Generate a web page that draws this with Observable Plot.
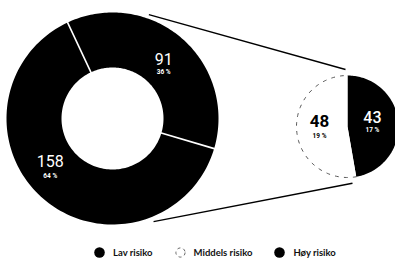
<!DOCTYPE html>
<html><head><meta charset="utf-8">
<script src="https://cdn.jsdelivr.net/npm/d3@7"></script>
<script src="https://cdn.jsdelivr.net/npm/@observablehq/plot@0.6"></script>
<style>
html,body{margin:0;padding:0;background:#fff;}
#chart svg{display:block;}
#legend{display:flex;align-items:center;height:28px;margin-top:6px;padding-left:94px;font-family:Lato,"Open Sans",sans-serif;font-size:9.5px;font-weight:700;color:#111;}
#legend .item{display:flex;align-items:center;margin-right:22px;}
#legend svg{margin-right:8px;display:block;}
</style></head><body>
<div id="chart"></div>
<div id="legend"></div>
<script>
// ---- data ----
const donutCategories = ["Lav risiko", "Middels og høy risiko"];
const donutValues = [158, 91];
const donutPercents = ["64 %", "36 %"];
const pieCategories = ["Høy risiko", "Middels risiko"];
const pieValues = [43, 48];
const piePercents = ["17 %", "19 %"];
const legendCategories = ["Lav risiko", "Middels risiko", "Høy risiko"];
const legendStyles = ["solid", "dashed", "solid"];

// ---- layout ----
const W = 395, H = 232;
const rad = d => d * Math.PI / 180;
const donut = {cx: 112, cy: 118, r0: 51, r1: 106, start: 106.5};
const pie = {cx: 347, cy: 126, r: 51, start: 0};
const connectors = [
  {a1: 19.3, r1: 110, a2: -2, r2: 57},
  {a1: 158.3, r1: 111, a2: 175, r2: 57}
];

const pt = (cx, cy, r, a) => [cx + r * Math.sin(a), cy - r * Math.cos(a)];
function ring(key, cx, cy, r0, r1, a0, a1, n = 120) {
  const out = [];
  for (let i = 0; i <= n; i++) { const [x, y] = pt(cx, cy, r1, a0 + (a1 - a0) * i / n); out.push({key, x, y}); }
  if (r0 > 0) for (let i = n; i >= 0; i--) { const [x, y] = pt(cx, cy, r0, a0 + (a1 - a0) * i / n); out.push({key, x, y}); }
  else out.push({key, x: cx, y: cy});
  return out;
}
function arcLine(key, cx, cy, r, a0, a1, n = 120) {
  const out = [];
  for (let i = 0; i <= n; i++) { const [x, y] = pt(cx, cy, r, a0 + (a1 - a0) * i / n); out.push({key, x, y}); }
  return out;
}

// donut arcs
const donutArcs = d3.pie().sort(null).startAngle(rad(donut.start)).endAngle(rad(donut.start + 360))
  (donutValues).map((a, i) => ({...a, cat: donutCategories[i], pct: donutPercents[i]}));
const donutPoly = donutArcs.flatMap(a => ring(a.cat, donut.cx, donut.cy, donut.r0, donut.r1, a.startAngle, a.endAngle));
const donutSeps = donutArcs.map(a => {
  const [x1, y1] = pt(donut.cx, donut.cy, donut.r0 - 1, a.startAngle);
  const [x2, y2] = pt(donut.cx, donut.cy, donut.r1 + 1, a.startAngle);
  return {x1, y1, x2, y2};
});
const donutLabels = donutArcs.map(a => {
  const m = (a.startAngle + a.endAngle) / 2;
  const [x, y] = pt(donut.cx, donut.cy, (donut.r0 + donut.r1) / 2, m);
  return {x, y, value: String(a.value), pct: a.pct, cat: a.cat};
});

// pie arcs
const pieArcs = d3.pie().sort(null).startAngle(rad(pie.start)).endAngle(rad(pie.start + 360))
  (pieValues).map((a, i) => ({...a, cat: pieCategories[i], pct: piePercents[i]}));
const piePoly = pieArcs.flatMap(a => ring(a.cat, pie.cx, pie.cy, 0, pie.r, a.startAngle, a.endAngle));
const pieDashed = pieArcs.filter(a => a.cat === "Middels risiko")
  .flatMap(a => arcLine(a.cat, pie.cx, pie.cy, pie.r, a.startAngle, a.endAngle));
const pieLabels = pieArcs.map(a => {
  const m = (a.startAngle + a.endAngle) / 2;
  const [x, y] = pt(pie.cx, pie.cy, pie.r * 0.55, m);
  return {x, y, value: String(a.value), pct: a.pct, cat: a.cat};
});

const links = connectors.map(c => {
  const [x1, y1] = pt(donut.cx, donut.cy, c.r1, rad(c.a1));
  const [x2, y2] = pt(pie.cx, pie.cy, c.r2, rad(c.a2));
  return {x1, y1, x2, y2};
});

const fillOf = cat => cat === "Middels risiko" ? "#fff" : "#000";
const big = donutLabels.filter(d => d.cat === "Lav risiko");
const small = donutLabels.filter(d => d.cat !== "Lav risiko");
const pieLight = pieLabels.filter(d => d.cat === "Middels risiko");
const pieDark = pieLabels.filter(d => d.cat !== "Middels risiko");
const numFont = "Roboto, 'Open Sans', sans-serif";

const chart = Plot.plot({
  width: W, height: H, margin: 0,
  x: {domain: [0, W], range: [0, W], axis: null},
  y: {domain: [0, H], range: [0, H], axis: null},
  style: {background: "#fff"},
  marks: [
    Plot.link(links, {x1: "x1", y1: "y1", x2: "x2", y2: "y2", stroke: "#000", strokeWidth: 1.4}),
    Plot.line(donutPoly, {x: "x", y: "y", z: "key", fill: "#000", stroke: "none", curve: "linear-closed"}),
    Plot.link(donutSeps, {x1: "x1", y1: "y1", x2: "x2", y2: "y2", stroke: "#fff", strokeWidth: 1.6}),
    Plot.line(piePoly, {x: "x", y: "y", z: "key", fill: d => fillOf(d.key), stroke: "none", curve: "linear-closed"}),
    Plot.line(pieDashed, {x: "x", y: "y", z: "key", stroke: "#444", strokeWidth: 0.9, strokeDasharray: "3,6"}),
    // donut labels
    Plot.text(small, {x: "x", y: "y", text: "value", fill: "#fff", fontSize: 16, fontWeight: 400, fontFamily: numFont, dy: 1}),
    Plot.text(small, {x: "x", y: "y", text: "pct", fill: "#fff", fontSize: 6.5, fontWeight: 700, fontFamily: numFont, dy: 13}),
    Plot.text(big, {x: "x", y: "y", text: "value", fill: "#fff", fontSize: 16, fontWeight: 400, fontFamily: numFont, dx: -11, dy: -16}),
    Plot.text(big, {x: "x", y: "y", text: "pct", fill: "#fff", fontSize: 6.5, fontWeight: 700, fontFamily: numFont, dx: -11, dy: -2}),
    // pie labels
    Plot.text(pieLight, {x: "x", y: "y", text: "value", fill: "#000", fontSize: 17, fontWeight: 700, fontFamily: numFont, dy: -7}),
    Plot.text(pieLight, {x: "x", y: "y", text: "pct", fill: "#000", fontSize: 6.5, fontWeight: 700, fontFamily: numFont, dy: 7}),
    Plot.text(pieDark, {x: "x", y: "y", text: "value", fill: "#fff", fontSize: 16, fontWeight: 500, fontFamily: numFont, dx: -3, dy: -6}),
    Plot.text(pieDark, {x: "x", y: "y", text: "pct", fill: "#fff", fontSize: 6.5, fontWeight: 700, fontFamily: numFont, dx: -3, dy: 6})
  ]
});
document.getElementById("chart").appendChild(chart);

// legend
const legend = d3.select("#legend");
legendCategories.forEach((c, i) => {
  const item = legend.append("div").attr("class", "item");
  const s = item.append("svg").attr("width", 11).attr("height", 11);
  if (legendStyles[i] === "dashed") {
    s.append("circle").attr("cx", 5.5).attr("cy", 5.5).attr("r", 4.6)
      .attr("fill", "#fff").attr("stroke", "#555").attr("stroke-width", 0.9).attr("stroke-dasharray", "3,3");
  } else {
    s.append("circle").attr("cx", 5.5).attr("cy", 5.5).attr("r", 5.3).attr("fill", "#000");
  }
  item.append("span").text(c);
});
</script>
</body></html>
